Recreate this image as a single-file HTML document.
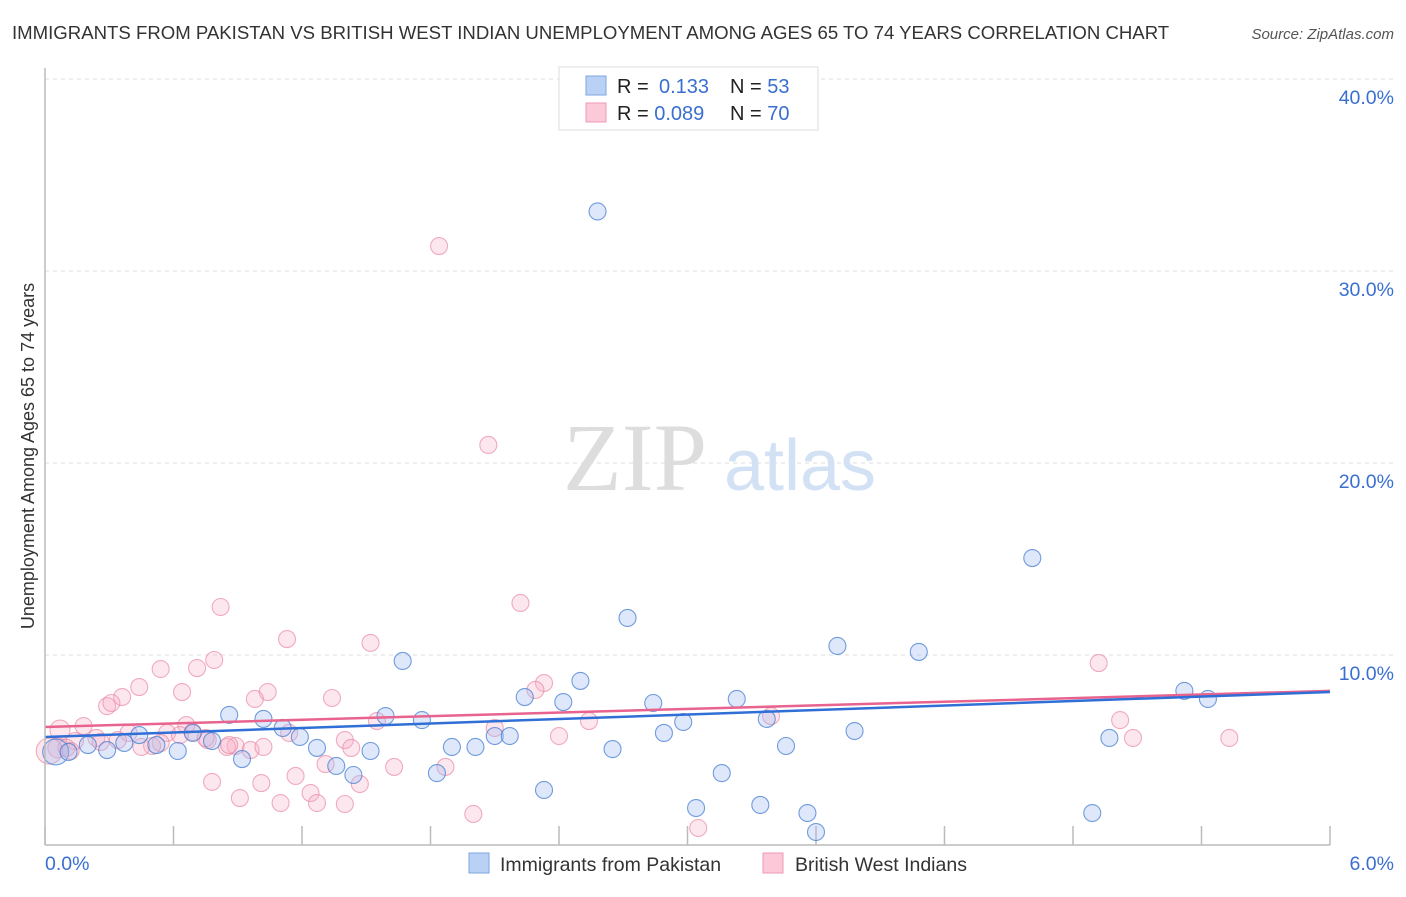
<!DOCTYPE html>
<html><head><meta charset="utf-8"><style>
body{margin:0;background:#fff;font-family:"Liberation Sans",sans-serif}
svg text{font-family:"Liberation Sans",sans-serif}
</style></head><body>
<svg id="chart" width="1406" height="892" xmlns="http://www.w3.org/2000/svg">
<text x="12" y="39" font-size="18.6" fill="#333">IMMIGRANTS FROM PAKISTAN VS BRITISH WEST INDIAN UNEMPLOYMENT AMONG AGES 65 TO 74 YEARS CORRELATION CHART</text>
<text x="1394" y="39" font-size="15" fill="#555" text-anchor="end" font-style="italic">Source: ZipAtlas.com</text>
<g id="grid"></g>
<g>
<text x="635" y="490" font-size="96" fill="#ddd" text-anchor="middle" style="font-family:'Liberation Serif',serif">ZIP</text>
<text x="800" y="490" font-size="72" fill="#d3e1f5" text-anchor="middle">atlas</text>
</g>
<g id="marks"></g>
<line x1="45" y1="68" x2="45" y2="845" stroke="#bbb" stroke-width="1.5"/>
<line x1="45" y1="845" x2="1330" y2="845" stroke="#bbb" stroke-width="1.5"/>
<text x="34" y="456" font-size="18" fill="#333" text-anchor="middle" transform="rotate(-90 34 456)">Unemployment Among Ages 65 to 74 years</text>
<text x="45" y="870" font-size="19.5" fill="#3a6fd0">0.0%</text>
<text x="1394" y="870" font-size="19.5" fill="#3a6fd0" text-anchor="end">6.0%</text>
<g>
<rect x="559" y="67" width="259" height="63" fill="#fff" stroke="#ddd"/>
<rect x="586" y="76" width="20" height="19" fill="#b8d1f5" stroke="#7fa6e0"/>
<rect x="586" y="103" width="20" height="19" fill="#fbc9d8" stroke="#ef9ab6"/>
<text x="617" y="93" font-size="20" fill="#222">R = <tspan fill="#3a6fd0" x="659">0.133</tspan></text>
<text x="730" y="93" font-size="20" fill="#222">N = <tspan fill="#3a6fd0">53</tspan></text>
<text x="617" y="120" font-size="20" fill="#222">R = <tspan fill="#3a6fd0">0.089</tspan></text>
<text x="730" y="120" font-size="20" fill="#222">N = <tspan fill="#3a6fd0">70</tspan></text>
</g>
<g>
<rect x="469" y="853" width="20" height="20" fill="#b8d1f5" stroke="#7fa6e0"/>
<text x="500" y="871" font-size="19.5" fill="#333">Immigrants from Pakistan</text>
<rect x="763" y="853" width="20" height="20" fill="#fbc9d8" stroke="#ef9ab6"/>
<text x="795" y="871" font-size="19.5" fill="#333">British West Indians</text>
</g>
</svg>
<script>
const yTicks=[10,20,30,40];
const yTickLabels=["10.0%","20.0%","30.0%","40.0%"];
const xTicks=[0,0.6,1.2,1.8,2.4,3.0,3.6,4.2,4.8,5.4,6.0];
const pakX=[2.58,4.61,2.72,3.70,4.08,1.67,2.50,5.32,5.43,2.24,2.42,2.84,3.23,0.86,1.59,1.02,1.76,3.37,2.98,1.11,0.69,0.44,2.10,2.17,2.89,3.78,1.19,0.78,4.97,0.37,0.52,1.27,1.90,2.01,2.65,3.46,1.52,0.62,0.29,0.20,0.05,0.11,0.92,1.36,1.44,1.83,3.16,2.33,3.04,3.34,3.56,4.89,3.60];
const pakY=[33.1,15.05,11.93,10.47,10.16,9.69,8.65,8.13,7.71,7.81,7.55,7.50,7.71,6.88,6.82,6.67,6.61,6.67,6.51,6.20,5.94,5.83,5.78,5.78,5.94,6.04,5.73,5.52,5.68,5.42,5.31,5.16,5.21,5.21,5.10,5.26,5.00,5.00,5.05,5.31,4.95,4.95,4.58,4.22,3.75,3.85,3.85,2.97,2.03,2.19,1.77,1.77,0.78];
const bwiX=[1.84,2.07,2.22,0.82,1.13,1.52,4.92,0.79,0.54,0.71,2.33,2.29,0.44,0.64,0.36,1.04,1.34,0.98,0.29,0.31,5.02,2.54,3.39,1.55,2.10,0.66,0.18,0.69,0.57,0.39,0.07,0.24,0.14,0.06,0.76,0.89,1.40,1.43,0.85,0.96,0.54,0.50,5.08,2.40,5.53,0.10,0.78,0.91,1.01,1.17,1.31,1.47,1.63,1.87,1.10,1.24,1.27,1.40,2.00,3.05,0.02,0.26,0.34,0.75,1.14,0.63,0.86,0.45,1.02,0.12];
const bwiY=[31.3,20.94,12.71,12.5,10.83,10.63,9.58,9.74,9.27,9.32,8.54,8.18,8.33,8.07,7.81,8.07,7.76,7.71,7.34,7.50,6.61,6.56,6.82,6.56,6.20,6.35,6.30,5.99,5.94,5.94,6.09,5.68,5.52,5.16,5.57,5.26,5.57,5.16,5.21,5.05,5.42,5.26,5.68,5.78,5.68,5.16,3.39,2.55,3.33,3.70,4.32,3.28,4.17,4.17,2.29,2.81,2.29,2.24,1.72,0.99,5.00,5.47,5.57,5.68,5.94,5.83,5.31,5.21,5.21,5.0];
const pakTrend=[5.73,8.07];
const bwiTrend=[6.25,8.13];
const NS="http://www.w3.org/2000/svg";
const sx=v=>45+v/6*1285;
const sy=v=>847-v*19.2;
const grid=document.getElementById('grid'),marks=document.getElementById('marks');
function mk(tag,attrs,parent){const e=document.createElementNS(NS,tag);for(const k in attrs)e.setAttribute(k,attrs[k]);parent.appendChild(e);return e;}
yTicks.forEach((t,i)=>{
 const l=mk('line',{x1:45,x2:1394,y1:sy(t),y2:sy(t),stroke:'#ddd','stroke-dasharray':'4,4'},grid);
 
 
 const tx=mk('text',{x:1394,y:sy(t)+25,'font-size':19.5,fill:'#3a6fd0','text-anchor':'end'},grid);
 tx.textContent=yTickLabels[i];
 
 
});
xTicks.forEach(t=>{
 const l=mk('line',{x1:sx(t),x2:sx(t),y1:826,y2:845,stroke:'#bbb','stroke-width':1.5},grid);
 
 
});
function pts(xs,ys,fill,stroke,name){
 xs.forEach((x,i)=>{
  const r=x<0.06?13:(x<0.1?10:8.5);
  const c=mk('circle',{cx:sx(x),cy:sy(ys[i]),r:r,fill:fill,stroke:stroke,'stroke-width':1.1},marks);
  
  
 });
}
pts(bwiX,bwiY,'rgba(248,175,200,0.3)','rgba(232,130,160,0.65)','bwi-point');
pts(pakX,pakY,'rgba(160,190,240,0.35)','rgba(70,125,210,0.75)','pakistan-point');
const l1=mk('line',{x1:sx(0),y1:sy(bwiTrend[0]),x2:sx(6),y2:sy(bwiTrend[1]),stroke:'#e8638e','stroke-width':2.5},marks);


const l2=mk('line',{x1:sx(0),y1:sy(pakTrend[0]),x2:sx(6),y2:sy(pakTrend[1]),stroke:'#2f6fd6','stroke-width':2.5},marks);


</script>
</body></html>
